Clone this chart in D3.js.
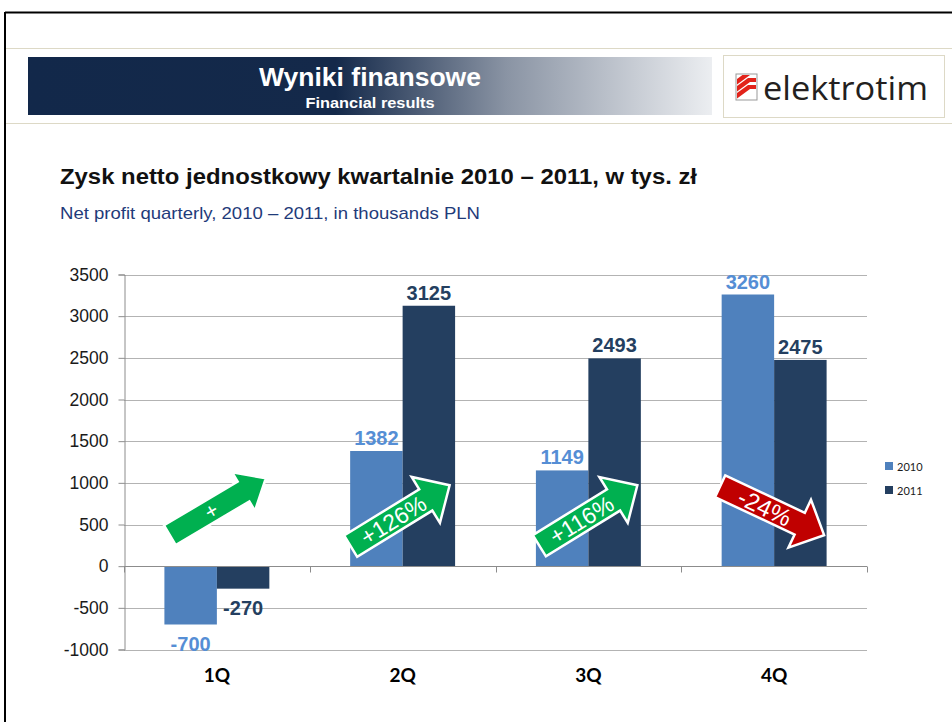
<!DOCTYPE html>
<html>
<head>
<meta charset="utf-8">
<script src="https://cdn.jsdelivr.net/npm/d3@7"></script>
<style>
  body { margin: 0; background: #fff; }
  svg { display: block; }
</style>
</head>
<body>
<script>
// data
const quarters = ['1Q', '2Q', '3Q', '4Q'];
const years = ['2010', '2011'];
const values2010 = [-700, 1382, 1149, 3260];
const values2011 = [-270, 3125, 2493, 2475];
const yTicks = [-1000, -500, 0, 500, 1000, 1500, 2000, 2500, 3000, 3500];
// change arrows: quarter, text, [dx px from quarter centre, value] for tail and tip
const arrows = [
  { q: '1Q', text: '+', color: '#00b050', tail: [-47, 372], tip: [49, 1055], sw: 23, hw: 45, hl: 26, fs: 21 },
  { q: '2Q', text: '+126%', color: '#00b050', tail: [-52, 240], tip: [47, 971], sw: 25, hw: 54, hl: 28, fs: 23 },
  { q: '3Q', text: '+116%', color: '#00b050', tail: [-49, 245], tip: [49, 971], sw: 25, hw: 54, hl: 28, fs: 23 },
  { q: '4Q', text: '-24%', color: '#c00000', tail: [-54, 959], tip: [50, 372], sw: 24, hw: 53, hl: 27, fs: 24 }
];

const W = 952, H = 722;
const colors = { '2010': '#4f81bd', '2011': '#243f60' };
const labelColors = { '2010': '#558ed5', '2011': '#243f60' };

const svg = d3.select('body').append('svg').attr('width', W).attr('height', H);

// page frame
svg.append('rect').attr('width', W).attr('height', H).attr('fill', '#fff');
svg.append('line').attr('x1', 5).attr('x2', W).attr('y1', 12.5).attr('y2', 12.5)
  .attr('stroke', '#000').attr('stroke-width', 2);
svg.append('line').attr('x1', 5).attr('x2', 5).attr('y1', 12).attr('y2', H)
  .attr('stroke', '#000').attr('stroke-width', 2);
[48.5, 123.5].forEach(y => {
  svg.append('line').attr('x1', 6).attr('x2', W).attr('y1', y).attr('y2', y)
    .attr('stroke', '#ddd9c6').attr('stroke-width', 1);
});

// header band
const defs = svg.append('defs');
const grad = defs.append('linearGradient').attr('id', 'hdr');
grad.append('stop').attr('offset', '0%').attr('stop-color', '#12284a');
grad.append('stop').attr('offset', '45%').attr('stop-color', '#14294a');
grad.append('stop').attr('offset', '70%').attr('stop-color', '#8a94a4');
grad.append('stop').attr('offset', '100%').attr('stop-color', '#eceef1');
svg.append('rect').attr('x', 28).attr('y', 57).attr('width', 684).attr('height', 58)
  .attr('fill', 'url(#hdr)');
svg.append('text').attr('x', 370).attr('y', 86).attr('text-anchor', 'middle')
  .attr('fill', '#fff').style('font', 'bold 25px "Liberation Sans Narrow", "Liberation Sans", Arial, sans-serif')
  .attr('textLength', 222).attr('lengthAdjust', 'spacingAndGlyphs')
  .text('Wyniki finansowe');
svg.append('text').attr('x', 370).attr('y', 108).attr('text-anchor', 'middle')
  .attr('fill', '#fff').style('font', 'bold 15px "Liberation Sans Narrow", "Liberation Sans", Arial, sans-serif')
  .attr('textLength', 129).attr('lengthAdjust', 'spacingAndGlyphs')
  .text('Financial results');

// logo box
svg.append('rect').attr('x', 723.5).attr('y', 55.5).attr('width', 221).attr('height', 62)
  .attr('fill', '#fff').attr('stroke', '#ddd9c6');
const logo = svg.append('g').attr('transform', 'translate(736,74)');
logo.append('rect').attr('width', 21).attr('height', 26).attr('fill', '#fff')
  .attr('stroke', '#999').attr('stroke-width', 1);
logo.append('clipPath').attr('id', 'lc').append('rect').attr('x', 1).attr('y', 1)
  .attr('width', 19).attr('height', 24);
const stripes = logo.append('g').attr('clip-path', 'url(#lc)');
[0, 7, 14].forEach(o => {
  stripes.append('path')
    .attr('d', `M-4,${14 + o} L14,${1 + o} L22,${1 + o} L22,${-3 + o} L12,${-3 + o} L-6,${10 + o}Z`)
    .attr('fill', '#e2231a');
});
svg.append('text').attr('x', 763).attr('y', 100).attr('fill', '#231f20')
  .attr('textLength', 165).attr('lengthAdjust', 'spacingAndGlyphs')
  .style('font', '33px "Open Sans", "DejaVu Sans", sans-serif')
  .text('elektrotim');

// titles
svg.append('text').attr('x', 60).attr('y', 184).attr('fill', '#111')
  .style('font', 'bold 22px "Liberation Sans", Arial, sans-serif')
  .attr('textLength', 637).attr('lengthAdjust', 'spacingAndGlyphs')
  .text('Zysk netto jednostkowy kwartalnie 2010 – 2011, w tys. zł');
svg.append('text').attr('x', 60).attr('y', 219).attr('fill', '#1f3b7a')
  .style('font', '17px "Liberation Sans", Arial, sans-serif')
  .attr('textLength', 420).attr('lengthAdjust', 'spacingAndGlyphs')
  .text('Net profit quarterly, 2010 – 2011, in thousands PLN');

// scales
const y = d3.scaleLinear().domain([-1000, 3500]).range([649.5, 274.5]);
const x0 = d3.scaleBand().domain(quarters).range([124, 867]).paddingInner(0.435).paddingOuter(0.2175);
const x1 = d3.scaleBand().domain(years).range([0, x0.bandwidth()]);
const step = x0.step();
const catCenter = q => x0(q) + x0.bandwidth() / 2;

// gridlines
svg.append('g').selectAll('line').data(yTicks.filter(d => d !== 0)).join('line')
  .attr('x1', 124).attr('x2', 867)
  .attr('y1', d => Math.round(y(d)) + 0.5).attr('y2', d => Math.round(y(d)) + 0.5)
  .attr('stroke', '#b3b3b3').attr('stroke-width', 1.2);

// y axis
const yAxis = svg.append('g').attr('transform', 'translate(124.5,0)')
  .call(d3.axisLeft(y).tickValues(yTicks).tickSize(6).tickPadding(10).tickFormat(d => String(d)));
yAxis.selectAll('path, line').attr('stroke', '#8c8c8c');
yAxis.selectAll('text').attr('fill', '#1a1a1a')
  .style('font', '17.5px "Liberation Sans", Arial, sans-serif');

// bars
const series = [values2010, values2011];
const rows = [];
quarters.forEach((q, i) => years.forEach((yr, j) => rows.push({ q, yr, v: series[j][i] })));
svg.append('g').selectAll('rect').data(rows).join('rect')
  .attr('x', d => x0(d.q) + x1(d.yr))
  .attr('width', x1.bandwidth())
  .attr('y', d => y(Math.max(0, d.v)))
  .attr('height', d => Math.abs(y(d.v) - y(0)))
  .attr('fill', d => colors[d.yr]);

// x axis on zero line
const xAxis = svg.append('g').attr('transform', `translate(0,${Math.round(y(0)) + 0.5})`);
xAxis.append('line').attr('x1', 124).attr('x2', 867).attr('stroke', '#8c8c8c');
xAxis.selectAll('.tk').data(d3.range(quarters.length + 1)).join('line')
  .attr('x1', i => Math.round(124 + i * step) + 0.5).attr('x2', i => Math.round(124 + i * step) + 0.5)
  .attr('y1', 0).attr('y2', 6).attr('stroke', '#8c8c8c');

// category labels
svg.append('g').selectAll('text').data(quarters).join('text')
  .attr('x', d => catCenter(d)).attr('y', 682).attr('text-anchor', 'middle')
  .attr('fill', '#000').style('font', 'bold 19px Lato, "Open Sans", sans-serif')
  .text(d => d);

// value labels
svg.append('g').selectAll('text').data(rows).join('text')
  .attr('x', d => x0(d.q) + x1(d.yr) + x1.bandwidth() / 2)
  .attr('y', d => d.v >= 0 ? y(d.v) - 6 : y(d.v) + 26)
  .attr('text-anchor', 'middle')
  .attr('fill', d => labelColors[d.yr])
  .style('font', 'bold 20px "Liberation Sans", Arial, sans-serif')
  .text(d => d.v);

// arrows
function arrowPath(L, sw, hw, hl) {
  return `M0,${-sw / 2}L${L - hl},${-sw / 2}L${L - hl},${-hw / 2}L${L},0L${L - hl},${hw / 2}L${L - hl},${sw / 2}L0,${sw / 2}Z`;
}
arrows.forEach(a => {
  const cx = catCenter(a.q);
  const tx = cx + a.tail[0], ty = y(a.tail[1]);
  const px = cx + a.tip[0], py = y(a.tip[1]);
  const L = Math.hypot(px - tx, py - ty);
  const ang = Math.atan2(py - ty, px - tx) * 180 / Math.PI;
  const g = svg.append('g').attr('transform', `translate(${tx},${ty}) rotate(${ang})`);
  g.append('path').attr('d', arrowPath(L, a.sw, a.hw, a.hl))
    .attr('fill', a.color).attr('stroke', '#fff').attr('stroke-width', 2.5)
    .attr('stroke-linejoin', 'miter');
  g.append('text').attr('x', L * 0.43).attr('y', 0).attr('dy', '0.36em')
    .attr('text-anchor', 'middle').attr('fill', '#fff')
    .style('font', `${a.fs}px "Liberation Sans", Arial, sans-serif`)
    .text(a.text);
});

// legend
const legend = svg.append('g').attr('transform', 'translate(885,462)');
years.forEach((yr, i) => {
  const row = legend.append('g').attr('transform', `translate(0,${i * 24})`);
  row.append('rect').attr('width', 8).attr('height', 8).attr('fill', colors[yr]);
  row.append('text').attr('x', 12).attr('y', 8.5).attr('fill', '#1a1a1a')
    .style('font', '11px Lato, "Open Sans", sans-serif').text(yr);
});
</script>
</body>
</html>
